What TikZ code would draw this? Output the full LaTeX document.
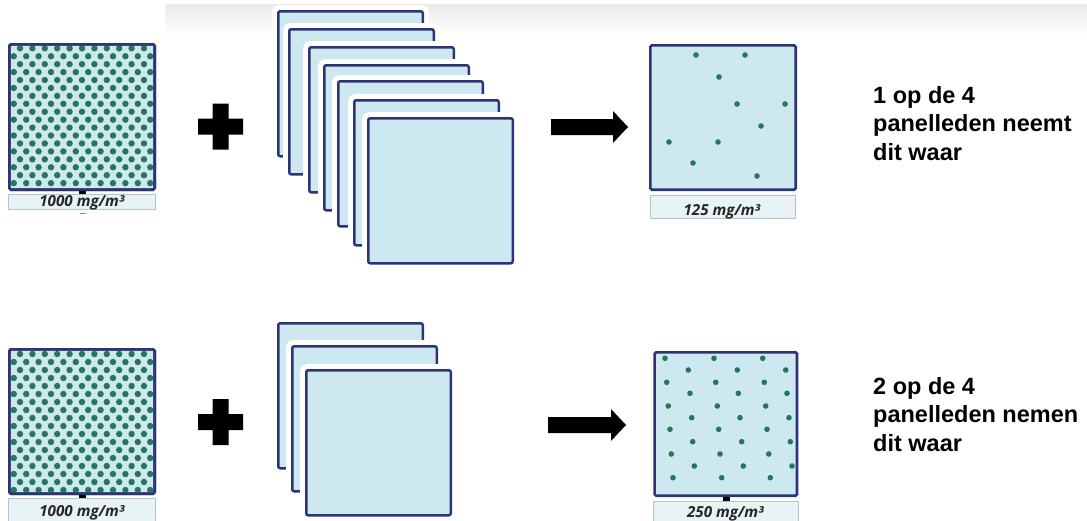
\documentclass[tikz,border=0pt]{standalone}
\usepackage{fontspec}
\setmainfont{Liberation Sans}
\newfontfamily\tagfont{Open Sans}
\definecolor{navy}{RGB}{44,52,118}
\definecolor{paleblue}{RGB}{205,232,238}
\definecolor{dotgreen}{RGB}{38,118,90}
\definecolor{tagfill}{RGB}{232,243,246}
\definecolor{tagline}{RGB}{178,196,202}
\begin{document}
\begin{tikzpicture}[x=1pt,y=-1pt,
  sample/.style={draw=navy,line width=2.6pt,fill=paleblue,rounded corners=1.5pt,
    inner sep=0pt,outer sep=0pt,anchor=north west},
  rim/.style={draw=navy,line width=2.6pt,rounded corners=1.5pt},
  card/.style={draw=navy,line width=2.5pt,fill=paleblue,rounded corners=2pt,
    inner sep=0pt,outer sep=0pt,anchor=north west,
    minimum width=144.5pt,minimum height=145pt,
    preaction={draw=white,line width=12.5pt}},
  tag/.style={draw=tagline,line width=0.6pt,fill=tagfill,inner sep=0pt,
    outer sep=0pt,anchor=north west},
  tagtext/.style={font={\tagfont\bfseries\itshape\fontsize{15.2}{16}\selectfont},
    text=black!85,anchor=base,inner sep=0pt},
  verdict/.style={font={\bfseries\fontsize{23.5}{28.6}\selectfont},
    align=left,anchor=base west,inner sep=0pt},
  tab/.style={fill=black,inner sep=0pt,outer sep=0pt,minimum width=7pt,minimum height=4pt},
  grain/.style={fill=dotgreen},
  solid shape/.style={fill=black}
]
\clip (0,0) rectangle (1087,520);

% faint grey band along the top edge
\shade[top color=black!8,bottom color=white] (165,4) rectangle (1087,36);

% ---------- upper row ----------
% saturated source sample
\node[sample,minimum width=145.4pt,minimum height=145.4pt] (srcA) at (9.3,44.3) {};
\begin{scope}
  \clip (srcA.north west) rectangle (srcA.south east);
  \foreach \r in {0,2,...,16}
    \foreach \c in {0,...,10}
      \fill[grain] (20+\c*12.4,48.3+\r*7.93) circle[radius=3.2pt];
  \foreach \r in {1,3,...,17}
    \foreach \c in {0,...,11}
      \fill[grain] (13.8+\c*12.4,48.3+\r*7.93) circle[radius=3.2pt];
\end{scope}
\draw[rim] (srcA.north west) rectangle (srcA.south east);
\node[tab] (tabA) at (82.5,192.5) {};
\node[tag,minimum width=147.4pt,minimum height=15.4pt] (tagA) at (8.3,194.3) {};
\node[tagtext] (txtA) at (82,206.7) {1000 mg/m³};
\draw[black!45,line width=0.8pt] (79.5,213.5) -- (85.5,213.5);

% plus sign
\begin{scope}[shift={(220.5,126.5)}]
  \fill[solid shape] (-8,-23) -- (8,-23) -- (8,-8) -- (22.5,-8) -- (22.5,8) -- (8,8)
    -- (8,23) -- (-8,23) -- (-8,8) -- (-22.5,8) -- (-22.5,-8) -- (-8,-8) -- cycle;
\end{scope}

% seven clean-air dilution cards
\foreach \x/\y [count=\i] in {277/10,288/28,308/46,323/64,337/80,353/99,367/117}
  \node[card] (topcard\i) at (\x+1.25,\y+1.25) {};

% block arrow
\begin{scope}[shift={(551,127)}]
  \fill[solid shape] (0,-8) -- (62,-8) -- (62,-16) -- (77,0) -- (62,16) -- (62,8) -- (0,8) -- cycle;
\end{scope}

% diluted sample
\node[sample,minimum width=145.4pt,minimum height=144.4pt] (outA) at (650.3,45.3) {};
\foreach \px/\py in {696/55,745/55,719/77,737/104,785/104,761/126,669/142,718/142,693/163,757/176}
  \fill[grain] (\px,\py) circle[radius=2.8pt];
\node[tag,minimum width=145pt,minimum height=23pt] (tagB) at (650,195) {};
\node[tagtext] (txtB) at (722,215.5) {125 mg/m³};

% the verdict node is anchored on the baseline of its last line
\node[verdict] (verdictA) at (873,160.5) {1 op de 4\\panelleden neemt\\dit waar};

% ---------- lower row ----------
\node[sample,minimum width=145.4pt,minimum height=144.4pt] (srcB) at (9.3,349.3) {};
\begin{scope}
  \clip (srcB.north west) rectangle (srcB.south east);
  \foreach \r in {0,2,...,16}
    \foreach \c in {0,...,10}
      \fill[grain] (20+\c*12.4,354+\r*8) circle[radius=3.2pt];
  \foreach \r in {1,3,...,17}
    \foreach \c in {0,...,11}
      \fill[grain] (13.8+\c*12.4,354+\r*8) circle[radius=3.2pt];
\end{scope}
\draw[rim] (srcB.north west) rectangle (srcB.south east);
\node[tab] (tabB) at (82.5,496.5) {};
\node[tag,minimum width=147.4pt,minimum height=30pt] (tagC) at (8.3,498.3) {};
\node[tagtext] (txtC) at (82,516.5) {1000 mg/m³};

\begin{scope}[shift={(220.5,422)}]
  \fill[solid shape] (-8,-23) -- (8,-23) -- (8,-8) -- (22.5,-8) -- (22.5,8) -- (8,8)
    -- (8,23) -- (-8,23) -- (-8,8) -- (-22.5,8) -- (-22.5,-8) -- (-8,-8) -- cycle;
\end{scope}

% three dilution cards
\foreach \x/\y [count=\i] in {277/322,291/345,305/369}
  \node[card] (lowcard\i) at (\x+1.25,\y+1.25) {};

\begin{scope}[shift={(548,425)}]
  \fill[solid shape] (0,-8) -- (63,-8) -- (63,-16) -- (78,0) -- (63,16) -- (63,8) -- (0,8) -- cycle;
\end{scope}

\node[sample,minimum width=142.4pt,minimum height=143.4pt] (outB) at (654.6,352.3) {};
\foreach \px/\py in {665/358.3,714/358.3,762.7/358.3,
                     688.3/370,737.3/370,785.7/370,
                     666.7/382.3,715.7/382.3,764.3/382.3,
                     690/393.3,738.3/393.3,787/393.3,
                     668.3/406,717.3/406,765.7/406,
                     691.7/417.7,740/417.7,789/417.7,
                     670/429.3,718.7/429.3,767/429.3,
                     692.7/441.7,741.7/441.7,790.3/441.7,
                     671.3/454,720/454,768.7/454,
                     694.3/466,743.3/466,792/466,
                     673/477.7,721.7/477.7,770.3/477.7}
  \fill[grain] (\px,\py) circle[radius=2.8pt];
\node[tab,minimum height=5pt] (tabC) at (726,499) {};
\node[tag,minimum width=145pt,minimum height=30pt] (tagD) at (653,501.5) {};
\node[tagtext] (txtD) at (725.5,517) {250 mg/m³};

\node[verdict] (verdictB) at (873,451.5) {2 op de 4\\panelleden nemen\\dit waar};
\end{tikzpicture}
\end{document}
